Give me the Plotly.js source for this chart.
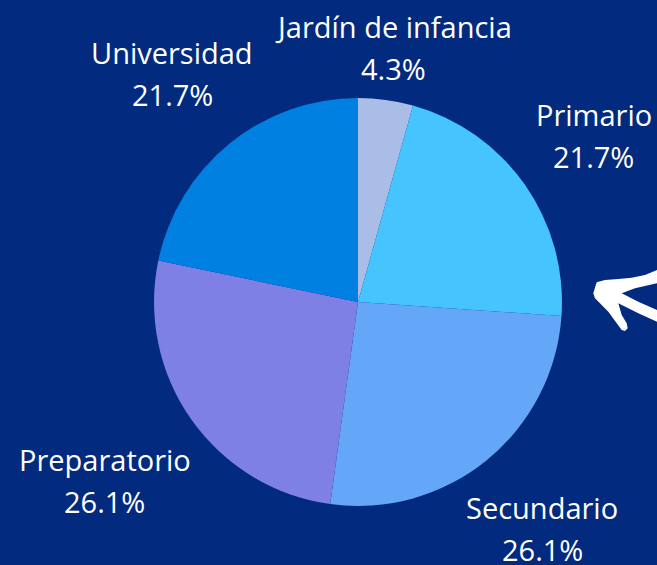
<!DOCTYPE html>
<html><head><meta charset="utf-8">
<script src="https://cdn.plot.ly/plotly-3.0.1.min.js"></script>
<style>html,body{margin:0;padding:0;background:#022a7e;}</style>
</head><body>
<div id="chart" style="width:657px;height:565px;"></div>
<script>
const categories = ["Jardín de infancia", "Primario", "Secundario", "Preparatorio", "Universidad"];
const counts = [1, 5, 6, 6, 5];
const sliceColors = ["#a9bde6", "#45c4fd", "#64a6f8", "#7f80e6", "#0080e0"];

const W = 657, H = 565;
const FONT = "Open Sans, sans-serif";
const FSIZE = 29;
const domX = [0.2344, 0.8554], domY = [0.1045, 0.8265];
const cx = (domX[0] + domX[1]) / 2 * W;
const cy = (1 - (domY[0] + domY[1]) / 2) * H;
const R = Math.min((domX[1] - domX[0]) * W, (domY[1] - domY[0]) * H) / 2;

function px(x, y) { return (x / W).toFixed(4) + "," + (1 - y / H).toFixed(4); }
const arrowPts = [[593.3,293.3],[596.7,282.3],[605,280],[618.3,279],[631.7,277.7],[645,275],[651.7,272.3],[657,270],
  [657,283.3],[635,288.3],[621.7,293.3],[638.3,301.7],[657,310],[657,321.7],[638.3,313.3],[618.3,303.3],
  [621.7,315],[626.7,323.3],[627.7,328.3],[625,331],[621.7,330],[616.7,323.3],[608.3,311.7],[600,303.3],[595,298.3]];
const arrowPath = "M" + arrowPts.map(p => px(p[0], p[1])).join(" L") + " Z";

// label placement: along each slice's mid-angle ray, so the label box sits just outside the pie
const total = counts.reduce((a, b) => a + b, 0);
const ctx = document.createElement("canvas").getContext("2d");
ctx.font = FSIZE + "px Open Sans";
const annotations = [];
const LINE_GAP = 42, HALF_H = 33, CLEAR = 18;
let cum = 0;
counts.forEach((v, i) => {
  const mid = (cum + v / 2) / total * 2 * Math.PI;
  cum += v;
  const ux = Math.sin(mid), uy = -Math.cos(mid);
  const pct = (v / total * 100).toFixed(1) + "%";
  const halfW = Math.max(ctx.measureText(categories[i]).width, ctx.measureText(pct).width) / 2;
  const nearest = d => {
    const bx = d * ux, by = d * uy;
    const nx = Math.max(bx - halfW, Math.min(0, bx + halfW));
    const ny = Math.max(by - HALF_H, Math.min(0, by + HALF_H));
    return Math.hypot(nx, ny);
  };
  let lo = 0, hi = 600;
  for (let k = 0; k < 60; k++) { const m = (lo + hi) / 2; if (nearest(m) < R + CLEAR) lo = m; else hi = m; }
  const lx = cx + lo * ux, ly = cy + lo * uy;
  [[categories[i], ly - LINE_GAP / 2], [pct, ly + LINE_GAP / 2]].forEach(([t, y]) => {
    annotations.push({ xref: "paper", yref: "paper", x: lx / W, y: 1 - y / H, text: t, showarrow: false,
      xanchor: "center", yanchor: "middle", font: { family: FONT, size: FSIZE, color: "#ffffff" } });
  });
});

const data = [{
  type: "pie",
  labels: categories,
  values: counts,
  sort: false,
  direction: "clockwise",
  rotation: 0,
  marker: { colors: sliceColors, line: { width: 0 } },
  textinfo: "none",
  hoverinfo: "label+percent",
  domain: { x: domX, y: domY },
  showlegend: false
}];

const layout = {
  width: W, height: H,
  margin: { l: 0, r: 0, t: 0, b: 0 },
  paper_bgcolor: "#022a7e",
  plot_bgcolor: "#022a7e",
  annotations: annotations,
  shapes: [{ type: "path", xref: "paper", yref: "paper", path: arrowPath, fillcolor: "#ffffff", line: { width: 0 } }]
};

Plotly.newPlot("chart", data, layout, { displayModeBar: false, staticPlot: true });
</script>
</body></html>
